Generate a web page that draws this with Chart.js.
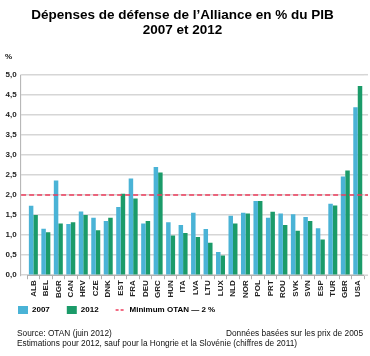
<!DOCTYPE html>
<html><head><meta charset="utf-8">
<script src="https://cdn.jsdelivr.net/npm/chart.js@4.4.0/dist/chart.umd.min.js"></script>
<style>
html,body{margin:0;padding:0;background:#fff;}
#wrap{position:relative;width:370px;height:356px;font-family:"Liberation Sans",Arial,sans-serif;}
#c{position:absolute;left:0;top:0;}
.t{position:absolute;white-space:nowrap;color:#111;font-size:8.3px;line-height:10px;}
</style></head><body>
<div id="wrap">
<canvas id="c" width="370" height="356"></canvas>
<div class="t" style="left:5px;top:52px;font-weight:bold;font-size:8px">%</div>
<div class="t" style="left:17px;top:328px">Source: OTAN (juin 2012)</div>
<div class="t" style="right:7px;top:328px">Données basées sur les prix de 2005</div>
<div class="t" style="left:17px;top:338px">Estimations pour 2012, sauf pour la Hongrie et la Slovénie (chiffres de 2011)</div>
</div>
<script>
const categories = ['ALB','BEL','BGR','CAN','HRV','CZE','DNK','EST','FRA','DEU','GRC','HUN','ITA','LVA','LTU','LUX','NLD','NOR','POL','PRT','ROU','SVK','SVN','ESP','TUR','GBR','USA'];
const values2007 = [1.73,1.16,2.36,1.28,1.59,1.43,1.35,1.70,2.41,1.29,2.70,1.32,1.25,1.56,1.15,0.58,1.48,1.56,1.85,1.43,1.54,1.52,1.45,1.17,1.78,2.46,4.19];
const values2012 = [1.50,1.07,1.29,1.32,1.50,1.12,1.43,2.03,1.91,1.35,2.56,0.99,1.05,0.95,0.81,0.49,1.29,1.54,1.85,1.58,1.25,1.11,1.35,0.89,1.74,2.61,4.72];
const minimumOTAN = 2;
const seriesLabels = ['2007','2012','Minimum OTAN \u2014 2 %'];
const titleLines = ['Dépenses de défense de l\u2019Alliance en % du PIB','2007 et 2012'];

const FONT = '"Liberation Sans", Arial, sans-serif';
const BLUE = '#4ab3d6', GREEN = '#1b9b69', RED = '#ee3d5c', GRID = '#d6d6d6', AXIS = '#b0b0b0';

const extras = {
  id: 'extras',
  afterLayout(chart) {
    // pull the legend row up, closer to the rotated country labels
    if (chart.legend) chart.legend.top -= 10;
  },
  beforeDatasetsDraw(chart) {
    const {ctx, chartArea: a, scales: {y}} = chart;
    ctx.save();
    ctx.strokeStyle = GRID; ctx.lineWidth = 1.5;
    y.ticks.forEach(t => {
      const py = y.getPixelForValue(t.value);
      ctx.beginPath(); ctx.moveTo(a.right, py); ctx.lineTo(a.right + 4, py); ctx.stroke();
    });
    ctx.strokeStyle = AXIS; ctx.lineWidth = 1;
    ctx.beginPath(); ctx.moveTo(a.left - 6.5, a.top); ctx.lineTo(a.left - 6.5, a.bottom + 1); ctx.stroke();
    ctx.restore();
  },
  afterDatasetsDraw(chart) {
    const {ctx, chartArea: a, scales: {y}} = chart;
    const py = y.getPixelForValue(minimumOTAN);
    ctx.save();
    ctx.strokeStyle = RED; ctx.lineWidth = 1.5; ctx.setLineDash([5, 3]);
    ctx.beginPath(); ctx.moveTo(a.left - 6, py); ctx.lineTo(a.right + 4, py); ctx.stroke();
    ctx.restore();
  }
};

new Chart(document.getElementById('c'), {
  type: 'bar',
  data: {
    labels: categories,
    datasets: [
      {label: seriesLabels[0], data: values2007, backgroundColor: BLUE, borderWidth: 0, categoryPercentage: 0.72, barPercentage: 1.0},
      {label: seriesLabels[1], data: values2012, backgroundColor: GREEN, borderWidth: 0, categoryPercentage: 0.72, barPercentage: 1.0},
      {type: 'line', label: seriesLabels[2], data: [], borderColor: RED, borderDash: [3, 2], borderWidth: 1.5, pointRadius: 0}
    ]
  },
  options: {
    responsive: false,
    animation: false,
    devicePixelRatio: 1,
    layout: {padding: {left: 1, right: 6, top: 0, bottom: 22}},
    plugins: {
      title: {display: true, text: titleLines, color: '#000', font: {family: FONT, size: 13.5, weight: 'bold', lineHeight: 1.1}, padding: {top: 8, bottom: 37}},
      tooltip: {enabled: false},
      legend: {
        position: 'bottom', align: 'start',
        labels: {
          usePointStyle: true, pointStyleWidth: 10, boxHeight: 8, padding: 17,
          color: '#222', font: {family: FONT, size: 8, weight: 'bold'},
          generateLabels: () => [
            {text: seriesLabels[0], fillStyle: BLUE, strokeStyle: BLUE, lineWidth: 0, pointStyle: 'rect', hidden: false, datasetIndex: 0},
            {text: seriesLabels[1], fillStyle: GREEN, strokeStyle: GREEN, lineWidth: 0, pointStyle: 'rect', hidden: false, datasetIndex: 1},
            {text: seriesLabels[2], fillStyle: 'rgba(0,0,0,0)', strokeStyle: RED, lineWidth: 1.5, lineDash: [3, 2], pointStyle: 'line', hidden: false, datasetIndex: 2}
          ]
        }
      }
    },
    scales: {
      x: {
        offset: true,
        grid: {display: true, drawOnChartArea: false, drawTicks: true, tickLength: 4, color: AXIS, offset: true},
        border: {display: true, color: AXIS},
        ticks: {minRotation: 90, maxRotation: 90, autoSkip: false, padding: 1, color: '#222', font: {family: FONT, size: 8, weight: 'bold'}}
      },
      y: {
        min: 0, max: 5,
        grid: {color: GRID, lineWidth: 1.5, tickLength: 6, drawTicks: true},
        border: {display: false},
        ticks: {stepSize: 0.5, padding: 4.5, color: '#222', font: {family: FONT, size: 8, weight: 'bold'},
          callback: v => v.toFixed(1).replace('.', ',')}
      }
    }
  },
  plugins: [extras]
});
</script>
</body></html>
